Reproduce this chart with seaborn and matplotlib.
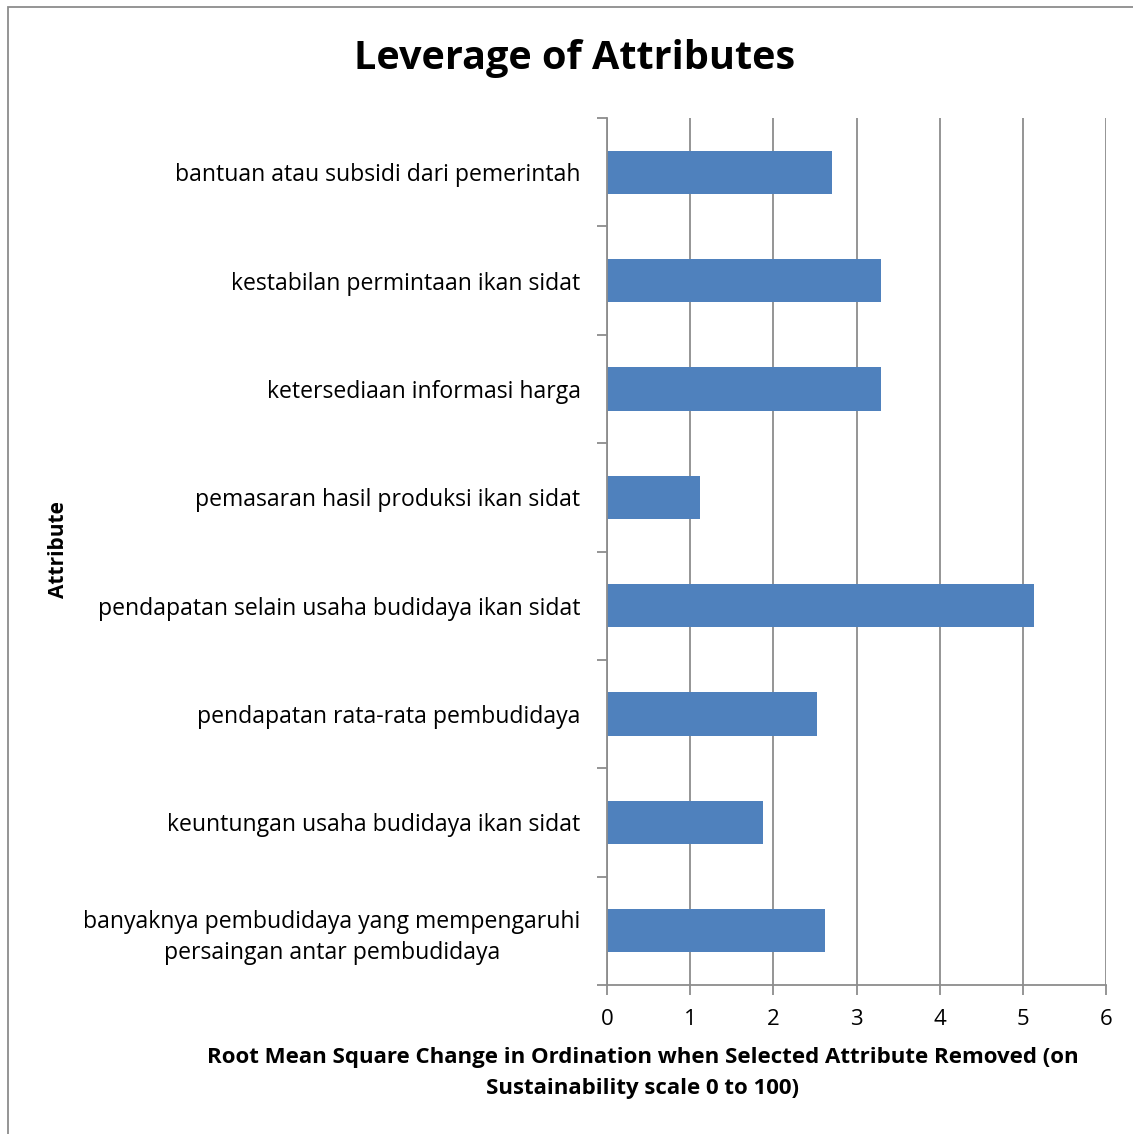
import matplotlib
matplotlib.use("Agg")
import matplotlib.pyplot as plt
from matplotlib.patches import Rectangle
from matplotlib.ticker import FixedLocator
import seaborn as sns
import pandas as pd

attributes = [
    "bantuan atau subsidi dari pemerintah",
    "kestabilan permintaan ikan sidat",
    "ketersediaan informasi harga",
    "pemasaran hasil produksi ikan sidat",
    "pendapatan selain usaha budidaya ikan sidat",
    "pendapatan rata-rata pembudidaya",
    "keuntungan usaha budidaya ikan sidat",
    "banyaknya pembudidaya yang mempengaruhi\npersaingan antar pembudidaya",
]
rms_change = [2.71, 3.30, 3.30, 1.12, 5.13, 2.53, 1.88, 2.62]
x_ticks = [0, 1, 2, 3, 4, 5, 6]

sns.set_theme(style="white")
plt.rcParams["font.family"] = ["Open Sans", "DejaVu Sans"]
plt.rcParams["text.color"] = "black"
plt.rcParams["xtick.color"] = "black"
plt.rcParams["ytick.color"] = "black"

df = pd.DataFrame({"attribute": attributes, "rms": rms_change})

fig = plt.figure(figsize=(11.33, 11.34), dpi=100)
W, H = 1133, 1134
ax = fig.add_axes([607 / W, 1 - 985 / H, (1106 - 607) / W, (985 - 118) / H])

sns.barplot(data=df, x="rms", y="attribute", orient="h", color="#4F81BD",
            width=0.4, saturation=1, linewidth=0, ax=ax)

ax.set_xlim(0, 6)
ax.set_ylim(len(attributes) - 0.5, -0.5)
ax.set_xticks(x_ticks)
ax.set_xticklabels([str(t) for t in x_ticks], fontsize=16)
ax.grid(axis="x", color="#8c8c8c", linewidth=1.3)
ax.set_axisbelow(True)

# category labels without marks; boundary ticks on the spine
ax.tick_params(axis="y", which="major", length=0, pad=19, labelsize=16.6)
ax.yaxis.set_minor_locator(FixedLocator([i - 0.5 for i in range(len(attributes) + 1)]))
ax.tick_params(axis="y", which="minor", left=True, length=7, width=1.3, color="#8c8c8c")
ax.tick_params(axis="x", which="major", bottom=True, length=7, width=1.3,
               color="#8c8c8c", pad=10)
for lbl in ax.get_yticklabels():
    lbl.set_multialignment("center")
    lbl.set_linespacing(1.42)

for side in ["top", "right"]:
    ax.spines[side].set_visible(False)
for side in ["left", "bottom"]:
    ax.spines[side].set_color("#8c8c8c")
    ax.spines[side].set_linewidth(1.3)

ax.set_ylabel("")
ax.set_xlabel("")

fig.text(575 / W, 1 - 58 / H, "Leverage of Attributes", ha="center", va="center",
         fontsize=28.5, fontweight="bold")
fig.text(58 / W, 1 - 550 / H, "Attribute", ha="center", va="center",
         rotation=90, fontsize=15, fontweight="bold")
fig.text(643 / W, 1 - 1073 / H,
         "Root Mean Square Change in Ordination when Selected Attribute Removed (on\nSustainability scale 0 to 100)",
         ha="center", va="center", fontsize=16, fontweight="bold", linespacing=1.6)

fig.patches.append(Rectangle((8 / W, -0.1), 1.2, 1 - 7 / H + 0.1,
                             transform=fig.transFigure, fill=False,
                             edgecolor="#8c8c8c", linewidth=1.3))

fig.savefig("out.png", dpi=100)
